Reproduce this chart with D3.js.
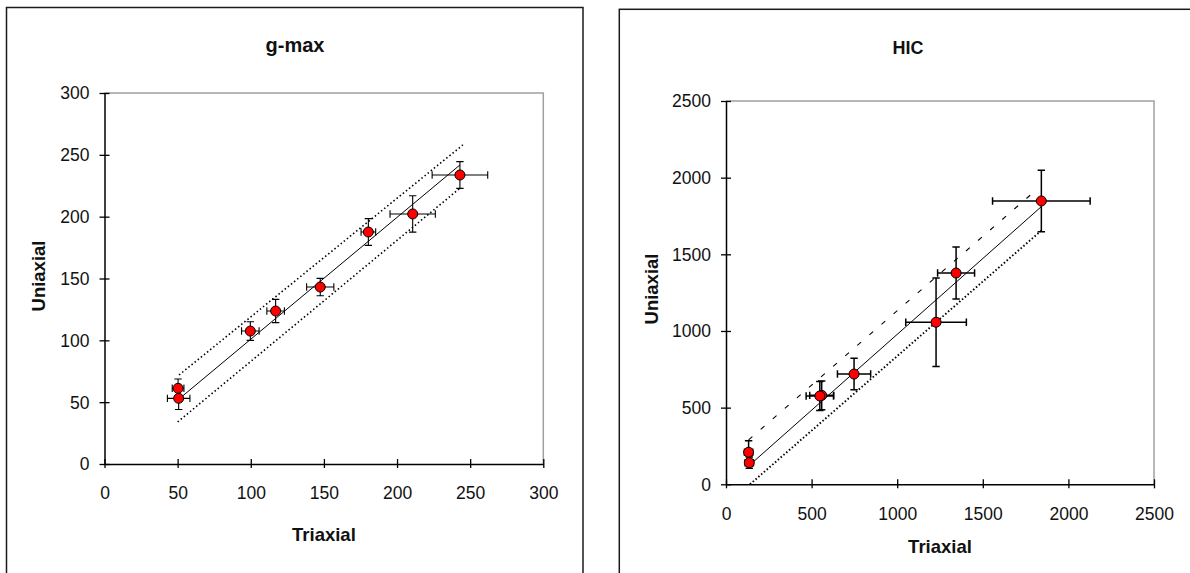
<!DOCTYPE html>
<html>
<head>
<meta charset="utf-8">
<script src="https://cdn.jsdelivr.net/npm/d3@7"></script>
<style>
  body { margin: 0; background: #fff; }
  svg { display: block; font-family: "Liberation Sans", Arial, sans-serif; }
</style>
</head>
<body>
<svg id="chart" width="1190" height="573"></svg>
<script>
// g-max panel
const gmaxTicks = [0, 50, 100, 150, 200, 250, 300];
const gmaxTriaxial = [50.3, 50.7, 99.7, 117, 147.5, 180.4, 210.7, 243];
const gmaxUniaxial = [61.2, 53.1, 107.5, 123.7, 143.1, 187.6, 202.2, 233.7];
const gmaxTriaxialErr = [4, 7.7, 6, 6, 9.3, 5, 15.5, 19];
const gmaxUniaxialErr = [7.5, 9, 7.5, 9.4, 7, 10.8, 14.7, 10.8];
const gmaxFitX = [52.8, 243];
const gmaxFitY = [54.4, 241.8];
const gmaxUpperX = [51, 245];
const gmaxUpperY = [72, 258];
const gmaxLowerX = [50, 243];
const gmaxLowerY = [34, 223];

// HIC panel
const hicTicks = [0, 500, 1000, 1500, 2000, 2500];
const hicTriaxial = [132, 136, 559, 548, 748, 1227, 1344, 1842];
const hicUniaxial = [209, 141, 580, 576, 719, 1057, 1378, 1848];
const hicTriaxialErr = [24, 24, 70, 80, 97, 177, 108, 285];
const hicUniaxialErr = [75, 37, 93, 95, 103, 288, 170, 200];
const hicFitX = [160, 1842];
const hicFitY = [147, 1811];
const hicUpperX = [132, 1800];
const hicUpperY = [290, 1908];
const hicLowerX = [140, 1842];
const hicLowerY = [0, 1655];

const svg = d3.select("#chart");
svg.append("rect").attr("width", 1190).attr("height", 573).attr("fill", "#fff");

function zip(xs, ys) {
  return xs.map((v, i) => ({ x: v, y: ys[i] }));
}

function drawPanel(p) {
  const g = svg.append("g");

  // outer chart border
  g.append("rect")
    .attr("x", p.box[0])
    .attr("y", p.box[1])
    .attr("width", p.box[2])
    .attr("height", p.box[3])
    .attr("fill", "none")
    .attr("stroke", "#1a1a1a")
    .attr("stroke-width", 1.5);

  const x = d3.scaleLinear().domain([0, p.max]).range([p.left, p.right]);
  const y = d3.scaleLinear().domain([0, p.max]).range([p.bottom, p.top]);

  // plot area border (top + right, grey)
  g.append("path")
    .attr("d", `M${x(0)},${y(p.max)}H${x(p.max)}V${y(0)}`)
    .attr("fill", "none")
    .attr("stroke", "#a0a0a0")
    .attr("stroke-width", 1.5);

  const fmt = d3.format("d");

  const xAxis = g
    .append("g")
    .attr("transform", `translate(0,${y(0)})`)
    .call(d3.axisBottom(x).tickValues(p.ticks).tickSizeOuter(0).tickFormat(fmt))
    .attr("font-size", null)
    .attr("font-family", null);
  xAxis.select(".domain").attr("stroke", "#000").attr("stroke-width", 1.5);
  xAxis.selectAll(".tick line").attr("y1", -5).attr("y2", 4).attr("stroke-width", 1.3);
  xAxis
    .selectAll(".tick text")
    .attr("y", 23)
    .attr("dy", "0.71em")
    .attr("font-size", "17.5px")
    .attr("fill", "#111");

  const yAxis = g
    .append("g")
    .attr("transform", `translate(${x(0)},0)`)
    .call(d3.axisLeft(y).tickValues(p.ticks).tickSizeOuter(0).tickFormat(fmt))
    .attr("font-size", null)
    .attr("font-family", null);
  yAxis.select(".domain").attr("stroke", "#000").attr("stroke-width", 1.5);
  yAxis.selectAll(".tick line").attr("x1", -5).attr("x2", 5).attr("stroke-width", 1.3);
  yAxis
    .selectAll(".tick text")
    .attr("x", -15)
    .attr("dy", "0.34em")
    .attr("font-size", "17.5px")
    .attr("fill", "#111");

  const line = d3
    .line()
    .x((d) => x(d.x))
    .y((d) => y(d.y));

  // fit line and limit lines
  g.append("path")
    .attr("d", line(zip(p.fitX, p.fitY)))
    .attr("stroke", "#000")
    .attr("stroke-width", 1)
    .attr("fill", "none");

  g.append("path")
    .attr("d", line(zip(p.upperX, p.upperY)))
    .attr("stroke", "#000")
    .attr("stroke-width", p.upperWidth)
    .attr("stroke-dasharray", p.upperDash)
    .attr("fill", "none");

  g.append("path")
    .attr("d", line(zip(p.lowerX, p.lowerY)))
    .attr("stroke", "#000")
    .attr("stroke-width", p.lowerWidth)
    .attr("stroke-dasharray", p.lowerDash)
    .attr("fill", "none");

  // error bars
  const cap = 3.7;
  const pts = p.tx.map((v, i) => ({
    x: v,
    y: p.uy[i],
    ex: p.txErr[i],
    ey: p.uyErr[i],
  }));

  const bars = g.append("g").attr("stroke", "#000").attr("stroke-width", p.barWidth).attr("fill", "none");
  pts.forEach((d) => {
    const cx = x(d.x);
    const cy = y(d.y);
    const y1 = y(d.y - d.ey);
    const y2 = y(d.y + d.ey);
    const x1 = x(d.x - d.ex);
    const x2 = x(d.x + d.ex);
    bars.append("path").attr(
      "d",
      `M${cx},${y1}V${y2}M${cx - cap},${y1}H${cx + cap}M${cx - cap},${y2}H${cx + cap}` +
        `M${x1},${cy}H${x2}M${x1},${cy - cap}V${cy + cap}M${x2},${cy - cap}V${cy + cap}`
    );
  });

  g.selectAll("circle.pt")
    .data(pts)
    .join("circle")
    .attr("class", "pt")
    .attr("cx", (d) => x(d.x))
    .attr("cy", (d) => y(d.y))
    .attr("r", 5)
    .attr("fill", "#ff0000")
    .attr("stroke", "#000")
    .attr("stroke-width", 1);

  // titles
  g.append("text")
    .attr("x", p.titleX)
    .attr("y", p.titleY)
    .attr("text-anchor", "middle")
    .attr("font-weight", "bold")
    .attr("font-size", p.titleSize)
    .attr("fill", "#111")
    .text(p.title);

  g.append("text")
    .attr("x", (p.left + p.right) / 2)
    .attr("y", p.xLabelY)
    .attr("text-anchor", "middle")
    .attr("dominant-baseline", "central")
    .attr("font-weight", "bold")
    .attr("font-size", "18.5px")
    .attr("fill", "#111")
    .text("Triaxial");

  g.append("text")
    .attr("transform", `translate(${p.yLabelX},${p.yLabelY}) rotate(-90)`)
    .attr("text-anchor", "middle")
    .attr("dominant-baseline", "central")
    .attr("font-weight", "bold")
    .attr("font-size", "18.5px")
    .attr("fill", "#111")
    .text("Uniaxial");
}

drawPanel({
  box: [6.5, 7.5, 576.5, 620],
  left: 104.5,
  right: 543.3,
  top: 93,
  bottom: 464,
  max: 300,
  ticks: gmaxTicks,
  tx: gmaxTriaxial,
  uy: gmaxUniaxial,
  txErr: gmaxTriaxialErr,
  uyErr: gmaxUniaxialErr,
  fitX: gmaxFitX,
  fitY: gmaxFitY,
  upperX: gmaxUpperX,
  upperY: gmaxUpperY,
  lowerX: gmaxLowerX,
  lowerY: gmaxLowerY,
  upperDash: "1.5,2.5",
  upperWidth: 1.6,
  lowerDash: "1.5,2.5",
  lowerWidth: 1.6,
  barWidth: 1.1,
  title: "g-max",
  titleX: 295,
  titleY: 52,
  titleSize: "20px",
  xLabelY: 534,
  yLabelX: 38,
  yLabelY: 276,
});

drawPanel({
  box: [619.3, 9.3, 620, 620],
  left: 726,
  right: 1154,
  top: 101,
  bottom: 484.3,
  max: 2500,
  ticks: hicTicks,
  tx: hicTriaxial,
  uy: hicUniaxial,
  txErr: hicTriaxialErr,
  uyErr: hicUniaxialErr,
  fitX: hicFitX,
  fitY: hicFitY,
  upperX: hicUpperX,
  upperY: hicUpperY,
  lowerX: hicLowerX,
  lowerY: hicLowerY,
  upperDash: "5,11",
  upperWidth: 1.1,
  lowerDash: "1.5,2.2",
  lowerWidth: 1.9,
  barWidth: 1.5,
  title: "HIC",
  titleX: 908,
  titleY: 54,
  titleSize: "18px",
  xLabelY: 546,
  yLabelX: 651,
  yLabelY: 289,
});
</script>
</body>
</html>
